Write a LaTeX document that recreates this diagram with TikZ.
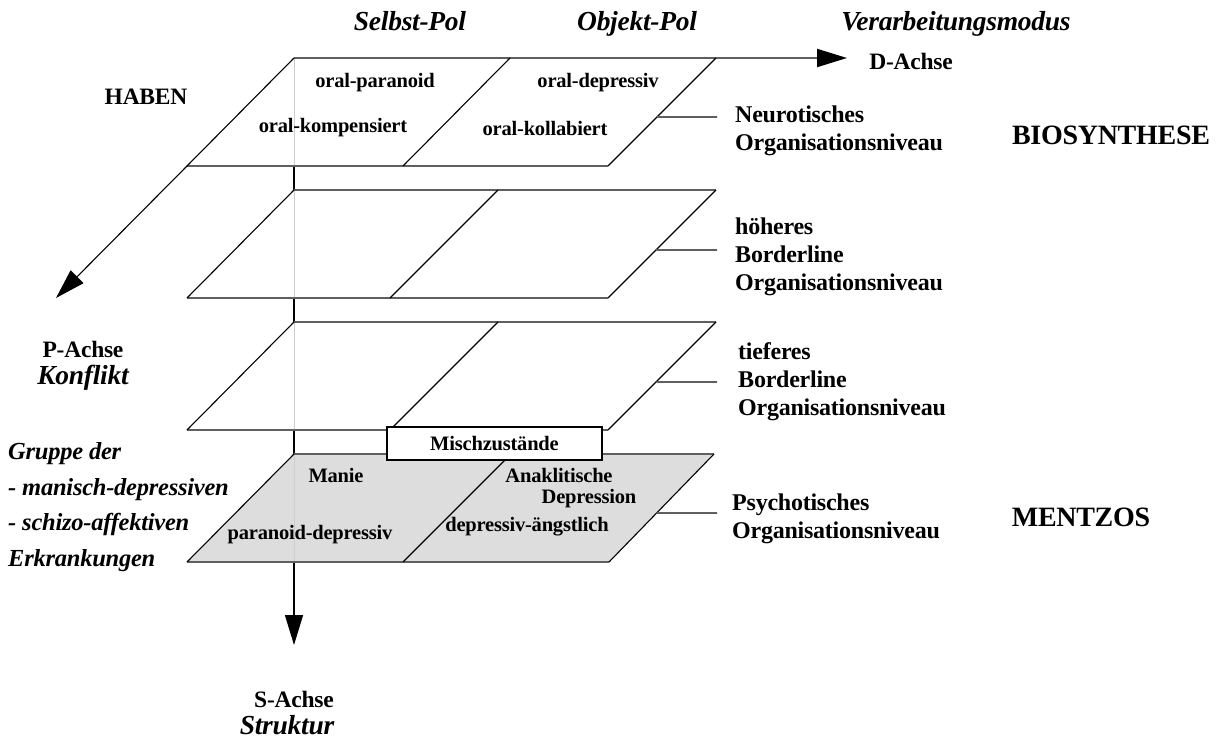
\documentclass[tikz,border=0pt]{standalone}
\usepackage{fontspec}
\setmainfont{Liberation Serif}[LetterSpace=-1]
\usetikzlibrary{arrows.meta,calc}

\definecolor{edgegray}{RGB}{95,95,95}
\definecolor{hiddengray}{RGB}{205,205,205}
\definecolor{planefill}{RGB}{221,221,221}

\tikzset{
  edge/.style={draw=edgegray, line width=2pt},
  slant/.style={draw=black, line width=1.1pt},
  hidden/.style={draw=hiddengray, line width=1pt},
  axisseg/.style={draw=black, line width=1.8pt},
  leader/.style={draw=edgegray, line width=1.6pt},
  axisarrow/.style={draw=black, line width=1.4pt, -{Triangle[length=30pt,width=18pt,color=black]}},
  cell/.style={font=\fontsize{20.5}{25}\selectfont\bfseries, inner sep=0pt},
  level/.style={font=\fontsize{24}{28}\selectfont\bfseries, inner sep=0pt, anchor=west, align=left},
  pole/.style={font=\fontsize{27.5}{30}\selectfont\bfseries\itshape, inner sep=0pt, anchor=base},
  axisname/.style={font=\fontsize{23.5}{28}\selectfont\bfseries, inner sep=0pt},
  theory/.style={font=\fontsize{28}{30}\selectfont\bfseries, inner sep=0pt},
  mixbox/.style={draw=black, line width=1.2pt, fill=white, minimum width=215pt, minimum height=33pt, inner sep=0pt, font=\fontsize{20.5}{24}\selectfont\bfseries}
}

\begin{document}
\begin{tikzpicture}[x=1pt,y=-1pt]
\useasboundingbox (0,0) rectangle (1218,741);

% corners of the four levels (tl, tr, br, bl) and the middle divider (dt, db)
\coordinate (p1tl) at (294,58);  \coordinate (p1tr) at (716,58);
\coordinate (p1br) at (608,166); \coordinate (p1bl) at (187,166);
\coordinate (p1dt) at (510,58);  \coordinate (p1db) at (403,166);

\coordinate (p2tl) at (294,190); \coordinate (p2tr) at (716,190);
\coordinate (p2br) at (608,298); \coordinate (p2bl) at (187,298);
\coordinate (p2dt) at (498,190); \coordinate (p2db) at (390,298);

\coordinate (p3tl) at (294,322); \coordinate (p3tr) at (716,322);
\coordinate (p3br) at (608,430); \coordinate (p3bl) at (187,430);
\coordinate (p3dt) at (498,322); \coordinate (p3db) at (390,430);

\coordinate (p4tl) at (294,454); \coordinate (p4tr) at (714,454);
\coordinate (p4br) at (609,562); \coordinate (p4bl) at (187,562);
\coordinate (p4dt) at (511,454); \coordinate (p4db) at (403,562);

% axis end points
\coordinate (dend) at (847,58);
\coordinate (pend) at (56,298);
\coordinate (send) at (294,645);

% shaded psychotic level
\fill[planefill] (p4tl) -- (p4tr) -- (p4br) -- (p4bl) -- cycle;

% S-axis: hidden inside the levels, solid between them
\draw[hidden] (p1tl) -- (p4tl |- p4bl);
\draw[axisseg] (p1tl |- p1bl) -- (p2tl);
\draw[axisseg] (p2tl |- p2bl) -- (p3tl);
\draw[axisseg] (p3tl |- p3bl) -- (p4tl);
\draw[axisarrow] (p4tl |- p4bl) -- (send);

% levels
\foreach \p in {p1,p2,p3,p4}{
  \draw[edge] (\p tl) -- (\p tr);
  \draw[edge] (\p bl) -- (\p br);
  \draw[slant] (\p tl) -- (\p bl);
  \draw[slant] (\p tr) -- (\p br);
  \draw[slant] (\p dt) -- (\p db);
}

% D-axis and P-axis
\draw[axisarrow, draw=edgegray, line width=2pt] (p1tr) -- (dend);
\draw[axisarrow, line width=1.1pt] (p1bl) -- (pend);

% level cells
\node[cell] (c11) at (375,83)  {oral-paranoid};
\node[cell] (c12) at (598,83)  {oral-depressiv};
\node[cell] (c13) at (333,128) {oral-kompensiert};
\node[cell] (c14) at (545,128) {oral-kollabiert};

\node[cell] (c41) at (336,475) {Manie};
\node[cell] (c42) at (559,475) {Anaklitische};
\node[cell] (c43) at (589,499) {Depression};
\node[cell] (c44) at (310,535) {paranoid-depressiv};
\node[cell] (c45) at (527,527) {depressiv-ängstlich};

\node[mixbox] (mix) at (494.5,443.5) {Mischzustände};

% level names with leaders
\node[level] (n1) at (735,131) {Neurotisches\\Organisationsniveau};
\node[level] (n2) at (735,257) {höheres\\Borderline\\Organisationsniveau};
\node[level] (n3) at (738,382) {tieferes\\Borderline\\Organisationsniveau};
\node[level] (n4) at (732,519) {Psychotisches\\Organisationsniveau};

\coordinate (l1) at ($(p1tr)!0.546!(p1br)$);
\coordinate (l2) at ($(p2tr)!0.556!(p2br)$);
\coordinate (l3) at ($(p3tr)!0.556!(p3br)$);
\coordinate (l4) at ($(p4tr)!0.546!(p4br)$);
\coordinate (e1) at (717,117);
\coordinate (e2) at (717,250);
\coordinate (e3) at (717,382);
\coordinate (e4) at (717,513);
\draw[leader] (l1) -- (e1);
\draw[leader] (l2) -- (e2);
\draw[leader] (l3) -- (e3);
\draw[leader] (l4) -- (e4);

% poles and axes
\node[pole] (selbst) at (410,31) {Selbst-Pol};
\node[pole] (objekt) at (637,31) {Objekt-Pol};
\node[pole] (modus)  at (956,31) {Verarbeitungsmodus};
\node[axisname] (dachse) at (911,61) {D-Achse};
\node[axisname] (haben) at (146,97) {HABEN};

\node[axisname, align=center] (pachse) at (83,366)
  {P-Achse\\[-1pt]{\fontsize{27.5}{30}\selectfont\itshape Konflikt}};
\node[axisname, align=center] (sachse) at (294,713)
  {S-Achse\\[-1pt]{\fontsize{27.5}{30}\selectfont\itshape\hspace*{-14pt}Struktur}};

\node[font=\fontsize{24.5}{35.5}\selectfont\bfseries\itshape, inner sep=0pt, anchor=west, align=left] (gruppe) at (8,507)
  {Gruppe der\\- manisch-depressiven\\- schizo-affektiven\\Erkrankungen};

\node[theory] (bio) at (1111,135) {BIOSYNTHESE};
\node[theory] (mentzos) at (1081,517) {MENTZOS};
\end{tikzpicture}
\end{document}
